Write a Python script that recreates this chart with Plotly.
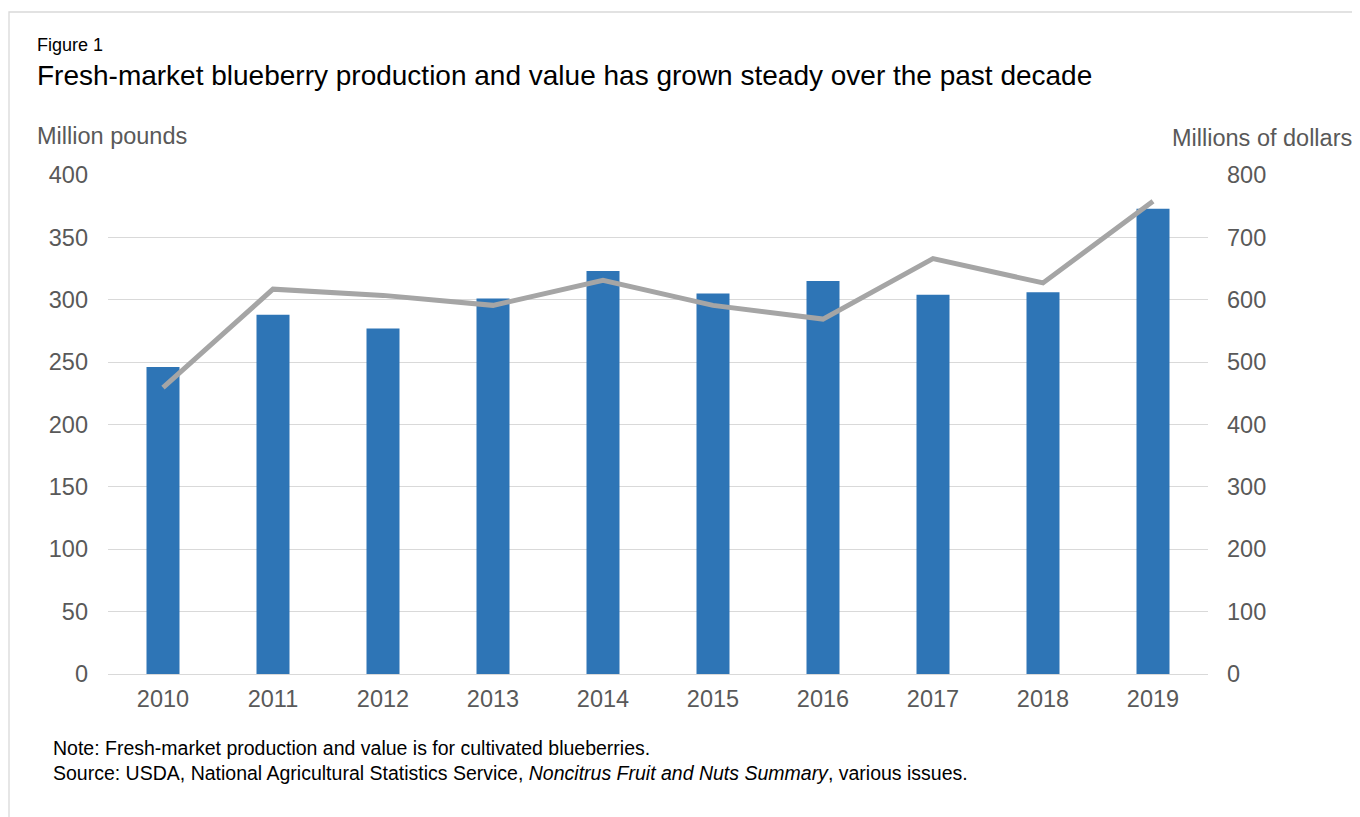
import plotly.graph_objects as go

years = ["2010", "2011", "2012", "2013", "2014", "2015", "2016", "2017", "2018", "2019"]
production = [246, 288, 277, 301, 323, 305, 315, 304, 306, 373]
value = [459, 617, 607, 591, 631, 591, 569, 666, 627, 758]

left_ticks = [0, 50, 100, 150, 200, 250, 300, 350, 400]
right_ticks = [0, 100, 200, 300, 400, 500, 600, 700, 800]

FONT = "Liberation Sans, Arial, sans-serif"
TICK_COLOR = "#595959"
TICK_SIZE = 23.5

# page is offset by the 8px body margin
OFF = 8
fig = go.Figure()
fig.add_trace(go.Bar(x=years, y=production, marker=dict(color="#2E75B6", line=dict(width=0)),
                     name="Production", yaxis="y"))
fig.add_trace(go.Scatter(x=years, y=value, mode="lines", line=dict(color="#A5A5A5", width=5),
                         name="Value", yaxis="y2"))

fig.update_layout(
    width=1360 - OFF, height=817 - OFF, autosize=False,
    margin=dict(l=108 - OFF, r=152, t=175 - OFF, b=143),
    paper_bgcolor="white", plot_bgcolor="white",
    showlegend=False,
    bargap=0.7,
    font=dict(family=FONT, color=TICK_COLOR, size=TICK_SIZE),
    xaxis=dict(type="category", showgrid=False, showline=False, ticks="",
               tickfont=dict(size=TICK_SIZE, color=TICK_COLOR), ticklabelstandoff=8),
    yaxis=dict(range=[0, 400], tickvals=left_ticks, showgrid=True, gridcolor="#D9D9D9", gridwidth=1.3,
               zeroline=True, zerolinecolor="#D9D9D9", zerolinewidth=1.3, showline=False, ticks="",
               tickfont=dict(size=TICK_SIZE, color=TICK_COLOR), ticklabelstandoff=19),
    yaxis2=dict(range=[0, 800], tickvals=right_ticks, overlaying="y", side="right", showgrid=False,
                zeroline=False, showline=False, ticks="",
                tickfont=dict(size=TICK_SIZE, color=TICK_COLOR), ticklabelstandoff=18),
    shapes=[dict(type="rect", xref="paper", yref="paper", x0=(9 - 108) / 1100.0, x1=1.2, y0=-0.5,
                 y1=(674 - 12) / 499.0,
                 line=dict(color="#D9D9D9", width=1.3), fillcolor="rgba(0,0,0,0)", layer="below")],
)

W = 1100.0
H = 499.0
def px(xp):
    return (xp - 108) / W
def py(yp):
    return (674 - yp) / H

def ann(text, x, y, size, color="black", xanchor="left"):
    fig.add_annotation(text=text, x=px(x), y=py(y), xref="paper", yref="paper", showarrow=False,
                       xanchor=xanchor, yanchor="middle", font=dict(family=FONT, size=size, color=color),
                       align="left")

ann("Figure 1", 35, 45, 18)
ann("Fresh-market blueberry production and value has grown steady over the past decade", 35, 75, 28)
ann("Million pounds", 35, 136, TICK_SIZE, TICK_COLOR)
ann("Millions of dollars", 1354, 138, TICK_SIZE, TICK_COLOR, xanchor="right")
ann("Note: Fresh-market production and value is for cultivated blueberries.", 51, 748, 19.5)
ann("Source: USDA, National Agricultural Statistics Service, <i>Noncitrus Fruit and Nuts Summary</i>, various issues.",
    51, 773, 19.5)

fig.write_html("out.html")
